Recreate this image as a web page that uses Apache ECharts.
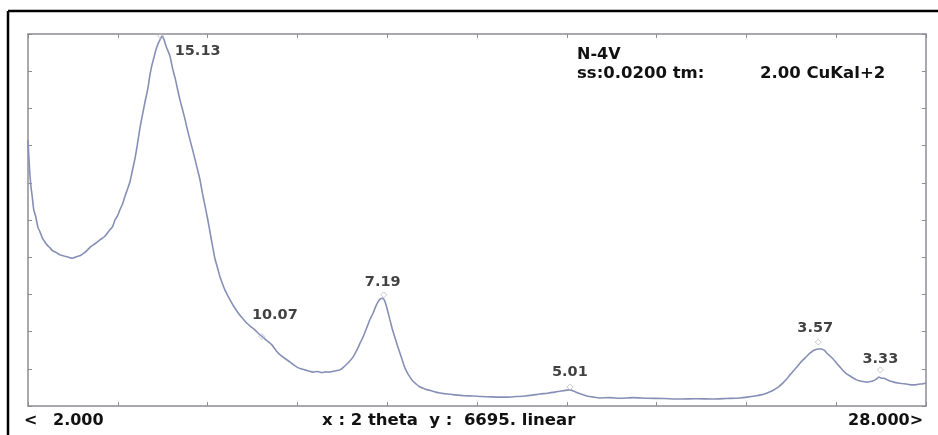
<!DOCTYPE html>
<html>
<head>
<meta charset="utf-8">
<script src="https://cdn.jsdelivr.net/npm/echarts@6/dist/echarts.min.js"></script>
<style>
  html, body { margin: 0; padding: 0; background: #fff; }
  #chart { width: 938px; height: 435px; }
</style>
</head>
<body>
<div id="chart"></div>
<script>
// scan (2 theta in degrees, counts)
const twoTheta = [
    2.00, 2.04, 2.08, 2.12, 2.17, 2.22, 2.29, 2.35, 2.41, 2.48, 2.55, 2.63, 2.72, 2.82, 2.93, 3.04,
    3.16, 3.28, 3.42, 3.52, 3.62, 3.71, 3.80, 3.94, 4.08, 4.22, 4.37, 4.45, 4.52, 4.59, 4.66, 4.74,
    4.81, 4.88, 4.95, 5.02, 5.10, 5.16, 5.21, 5.27, 5.33, 5.39, 5.45, 5.49, 5.53, 5.59, 5.65, 5.69,
    5.73, 5.78, 5.82, 5.86, 5.88, 5.91, 5.94, 5.98, 6.02, 6.06, 6.11, 6.18, 6.26, 6.33, 6.40, 6.48,
    6.55, 6.62, 6.69, 6.77, 6.84, 6.91, 6.98, 7.05, 7.12, 7.20, 7.27, 7.34, 7.41, 7.49, 7.56, 7.63,
    7.70, 7.78, 7.85, 7.96, 8.08, 8.21, 8.34, 8.45, 8.57, 8.68, 8.80, 8.93, 9.06, 9.18, 9.30, 9.45,
    9.59, 9.69, 9.79, 9.90, 10.02, 10.13, 10.25, 10.38, 10.51, 10.62, 10.74, 10.88, 11.03, 11.14,
    11.24, 11.33, 11.41, 11.48, 11.55, 11.62, 11.70, 11.77, 11.84, 11.91, 11.99, 12.06, 12.13, 12.19,
    12.25, 12.30, 12.34, 12.41, 12.48, 12.55, 12.63, 12.70, 12.77, 12.84, 12.91, 12.98, 13.06, 13.14,
    13.23, 13.33, 13.44, 13.57, 13.70, 13.81, 13.93, 14.14, 14.36, 14.62, 14.88, 15.13, 15.38, 15.62,
    15.87, 16.13, 16.39, 16.60, 16.82, 17.04, 17.26, 17.44, 17.61, 17.69, 17.84, 18.01, 18.18, 18.37,
    18.56, 18.85, 19.14, 19.53, 19.92, 20.40, 20.88, 21.35, 21.83, 22.22, 22.61, 22.83, 23.05, 23.22,
    23.40, 23.52, 23.63, 23.75, 23.86, 23.96, 24.06, 24.16, 24.26, 24.35, 24.44, 24.54, 24.64, 24.74,
    24.84, 24.92, 24.99, 25.06, 25.13, 25.22, 25.31, 25.41, 25.51, 25.61, 25.71, 25.80, 25.89, 25.99,
    26.09, 26.19, 26.29, 26.38, 26.46, 26.55, 26.64, 26.71, 26.78, 26.87, 26.96, 27.07, 27.19, 27.30,
    27.42, 27.52, 27.62, 27.73, 27.83, 27.92, 28.00
];
const counts = [
    4790, 4300, 3980, 3780, 3520, 3420, 3210, 3130, 3030, 2960, 2900, 2850, 2790, 2760, 2720, 2700,
    2680, 2660, 2690, 2710, 2750, 2800, 2860, 2920, 2990, 3050, 3170, 3230, 3350, 3420, 3530, 3640,
    3780, 3900, 4030, 4230, 4460, 4680, 4880, 5100, 5290, 5480, 5650, 5790, 5960, 6140, 6280, 6380,
    6460, 6540, 6590, 6640, 6660, 6630, 6590, 6510, 6440, 6380, 6300, 6090, 5900, 5700, 5510, 5320,
    5150, 4960, 4790, 4600, 4430, 4250, 4070, 3830, 3620, 3370, 3130, 2890, 2660, 2480, 2320, 2200,
    2090, 1990, 1910, 1790, 1680, 1580, 1490, 1430, 1370, 1300, 1240, 1170, 1100, 1000, 920, 850,
    790, 740, 700, 670, 650, 630, 610, 620, 600, 615, 610, 630, 650, 700,
    760, 820, 880, 960, 1040, 1140, 1240, 1350, 1460, 1570, 1670, 1780, 1870, 1920,
    1940, 1920, 1870, 1720, 1550, 1380, 1220, 1080, 950, 820, 690, 600, 520, 450,
    400, 350, 320, 290, 270, 250, 235, 215, 200, 185, 180, 170, 165, 160,
    160, 170, 180, 195, 215, 230, 250, 270, 285, 290, 255, 215, 180, 160,
    145, 150, 140, 150, 140, 135, 125, 130, 125, 135, 145, 160, 180, 200,
    235, 265, 305, 355, 415, 480, 560, 630, 700, 770, 830, 890, 950, 1000,
    1020, 1030, 1020, 1000, 950, 900, 845, 770, 700, 630, 575, 540, 505, 470,
    450, 440, 430, 440, 450, 480, 520, 500, 500, 475, 450, 430, 415, 405,
    395, 385, 380, 385, 395, 400, 415
];

// labelled reflections: d spacing (angstrom) and where the peak marker sits
const peakD = ['15.13', '10.07', '7.19', '5.01', '3.57', '3.33'];
const peakTheta = [5.84, 8.77, 12.30, 17.69, 24.88, 26.68];
const peakCounts = [6660, 1250, 2000, 340, 1150, 650];
// label offsets from the marker (px)
const labelOffsets = [[37, 15], [13, -21], [-1, -13], [0, -15], [-3, -14], [0, -11]];

const xMin = 2, xMax = 28, yMax = 6695;

const xTicks = [], yTicks = [];
for (let i = 0; i <= 10; i++) {
    xTicks.push(xMin + (xMax - xMin) * i / 10);
    yTicks.push(yMax * i / 10);
}

const chart = echarts.init(document.getElementById('chart'));

const frameColor = '#8c8c94';
const textFont = '"DejaVu Sans", Verdana, sans-serif';

function frameX(position) {
    return {
        type: 'value', position: position, min: xMin, max: xMax,
        axisLine: { show: true, onZero: false, lineStyle: { color: frameColor, width: 1.5 } },
        axisTick: { show: true, inside: true, length: 4, customValues: xTicks, lineStyle: { color: frameColor } },
        axisLabel: { show: false },
        splitLine: { show: false }
    };
}
function frameY(position) {
    return {
        type: 'value', position: position, min: 0, max: yMax,
        axisLine: { show: true, onZero: false, lineStyle: { color: frameColor, width: 1.5 } },
        axisTick: { show: true, inside: true, length: 4, customValues: yTicks, lineStyle: { color: frameColor } },
        axisLabel: { show: false },
        splitLine: { show: false }
    };
}

function txt(x, y, s, size) {
    return {
        type: 'text', x: x, y: y,
        style: { text: s, font: 'bold ' + size + 'px ' + textFont, fill: '#111', verticalAlign: 'middle' }
    };
}

const option = {
    animation: false,
    backgroundColor: '#fff',
    grid: { left: 28, right: 12, top: 34, bottom: 29 },
    xAxis: [frameX('bottom'), frameX('top')],
    yAxis: [frameY('left'), frameY('right')],
    graphic: [
        { type: 'line', shape: { x1: 8, y1: 11, x2: 938, y2: 11 }, style: { stroke: '#000', lineWidth: 2.5 } },
        { type: 'line', shape: { x1: 8, y1: 11, x2: 8, y2: 435 }, style: { stroke: '#000', lineWidth: 2.5 } },
        txt(577, 55, 'N-4V', 16),
        txt(577, 74, 'ss:0.0200 tm:', 16.5),
        txt(760, 74, '2.00 CuKal+2', 16.5),
        txt(24, 421, '<', 16),
        txt(53, 421, '2.000', 16),
        txt(322, 421, 'x : 2 theta  y :  6695. linear', 16.5),
        txt(848, 421, '28.000>', 16)
    ],
    series: [
        {
            type: 'line',
            data: twoTheta.map((t, i) => [t, counts[i]]),
            showSymbol: false,
            smooth: 0.2,
            lineStyle: { color: '#8690b6', width: 1.6 },
            z: 3
        },
        {
            type: 'scatter',
            data: peakTheta.map((t, i) => ({
                value: [t, peakCounts[i]],
                name: peakD[i],
                label: { offset: labelOffsets[i] }
            })),
            symbol: 'diamond',
            symbolSize: 6,
            itemStyle: { color: 'rgba(255,255,255,0)', borderColor: '#b8bccb', borderWidth: 1 },
            label: {
                show: true,
                position: 'inside',
                formatter: (p) => p.name,
                fontFamily: textFont,
                fontWeight: 'bold',
                fontSize: 14.5,
                color: '#111'
            },
            z: 4
        }
    ]
};

chart.setOption(option);
</script>
</body>
</html>
